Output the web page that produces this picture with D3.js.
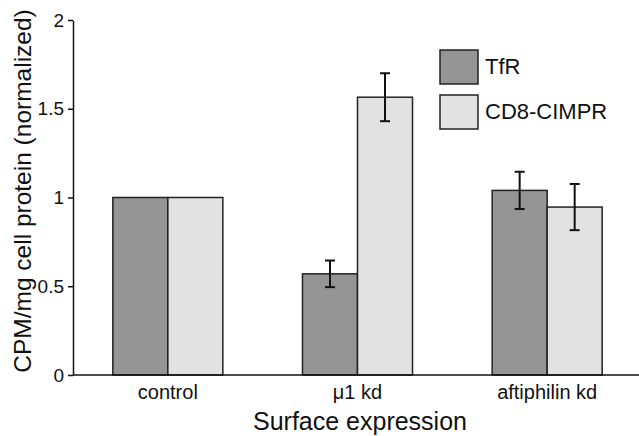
<!DOCTYPE html>
<html lang="en">

<head>
  <meta charset="UTF-8" />
  <title>Surface expression</title>
  <script src="https://d3js.org/d3.v7.min.js"></script>
  <style>
    body { margin: 0; background: #fff; }
    svg text { font-family: "Liberation Sans", Arial, sans-serif; fill: #111; }
  </style>
</head>

<body>
  <svg width="639" height="436"></svg>

  <script>
    const categories = ["control", "\u03bc1 kd", "aftiphilin kd"];
    const seriesNames = ["TfR", "CD8-CIMPR"];
    const tfr = [1.0, 0.57, 1.04];
    const tfrErr = [0, 0.075, 0.105];
    const cimpr = [1.0, 1.565, 0.946];
    const cimprErr = [0, 0.135, 0.13];
    const yTicks = [0, 0.5, 1, 1.5, 2];
    const colors = ["#959595", "#e2e2e2"];

    const svg = d3.select("svg");

    const x = d3.scaleBand().domain(categories).range([73, 642])
      .paddingInner(0.42).paddingOuter(0.21);
    const xs = d3.scaleBand().domain(seriesNames).range([0, x.bandwidth()]);
    const y = d3.scaleLinear().domain([0, 2]).range([375, 20]);

    const rows = categories.map((c, i) => ({
      cat: c,
      vals: [
        { s: seriesNames[0], v: tfr[i], e: tfrErr[i], col: colors[0] },
        { s: seriesNames[1], v: cimpr[i], e: cimprErr[i], col: colors[1] }
      ]
    }));

    // bars
    const g = svg.selectAll(".grp").data(rows).enter().append("g")
      .attr("transform", d => `translate(${x(d.cat)},0)`);

    g.selectAll("rect").data(d => d.vals).enter().append("rect")
      .attr("x", d => xs(d.s))
      .attr("y", d => y(d.v))
      .attr("width", xs.bandwidth())
      .attr("height", d => y(0) - y(d.v))
      .attr("fill", d => d.col)
      .attr("stroke", "#222")
      .attr("stroke-width", 1.5);

    // error bars
    const eb = g.selectAll(".err").data(d => d.vals.filter(v => v.e > 0)).enter().append("g")
      .attr("stroke", "#111").attr("stroke-width", 2);
    const cx = d => xs(d.s) + xs.bandwidth() / 2;
    eb.append("line")
      .attr("x1", cx).attr("x2", cx)
      .attr("y1", d => y(d.v + d.e)).attr("y2", d => y(d.v - d.e));
    eb.append("line")
      .attr("x1", d => cx(d) - 5).attr("x2", d => cx(d) + 5)
      .attr("y1", d => y(d.v + d.e)).attr("y2", d => y(d.v + d.e));
    eb.append("line")
      .attr("x1", d => cx(d) - 5).attr("x2", d => cx(d) + 5)
      .attr("y1", d => y(d.v - d.e)).attr("y2", d => y(d.v - d.e));

    // y axis
    const yAxis = svg.append("g").attr("transform", "translate(73,0)")
      .call(d3.axisLeft(y).tickValues(yTicks).tickFormat(d3.format("")).tickSize(5).tickSizeOuter(0));
    yAxis.select(".domain").attr("stroke", "#111").attr("stroke-width", 1.5);
    yAxis.selectAll(".tick line").attr("stroke", "#111").attr("stroke-width", 1.5);
    yAxis.selectAll(".tick text").attr("font-size", 19).attr("x", -9).attr("fill", "#111");

    // baseline
    svg.append("line").attr("x1", 73).attr("x2", 639)
      .attr("y1", y(0)).attr("y2", y(0))
      .attr("stroke", "#111").attr("stroke-width", 1.5);

    // category labels
    svg.selectAll(".cat").data(categories).enter().append("text")
      .attr("x", d => x(d) + x.bandwidth() / 2)
      .attr("y", 399)
      .attr("text-anchor", "middle")
      .attr("font-size", 20)
      .text(d => d);

    svg.append("text").attr("x", 360).attr("y", 430)
      .attr("text-anchor", "middle").attr("font-size", 25)
      .text("Surface expression");

    svg.append("text")
      .attr("transform", "translate(31,191) rotate(-90)")
      .attr("text-anchor", "middle").attr("font-size", 24.5)
      .text("CPM/mg cell protein (normalized)");

    // legend
    const leg = svg.selectAll(".leg").data(seriesNames).enter().append("g")
      .attr("transform", (d, i) => `translate(440,${50 + i * 45})`);
    leg.append("rect").attr("width", 38).attr("height", 34)
      .attr("fill", (d, i) => colors[i]).attr("stroke", "#222").attr("stroke-width", 1.5);
    leg.append("text").attr("x", 45).attr("y", 24).attr("font-size", 22).text(d => d);
  </script>
</body>

</html>
